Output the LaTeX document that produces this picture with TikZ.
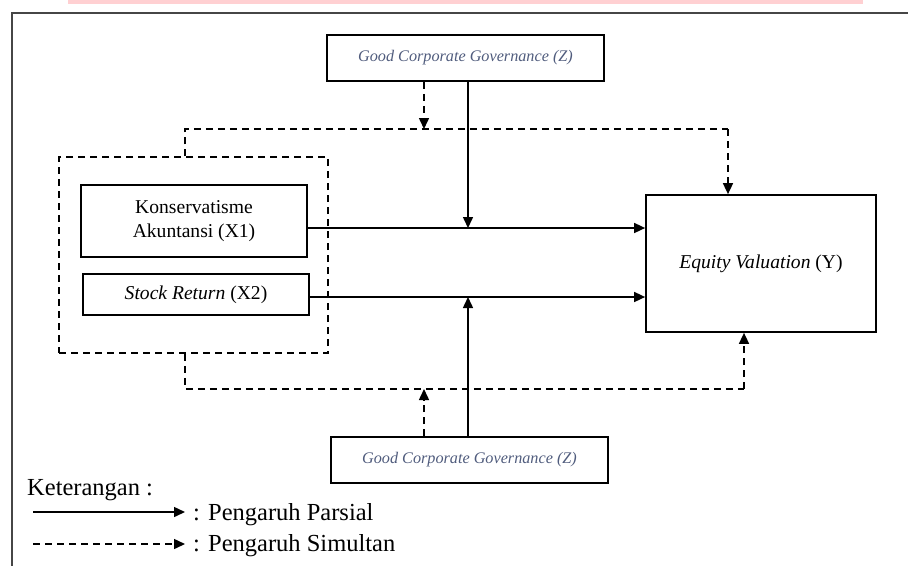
\documentclass[tikz,border=0pt]{standalone}
\usepackage{fontspec}
\setmainfont{Liberation Serif}
\usetikzlibrary{positioning,arrows.meta}
\definecolor{zblue}{RGB}{80,92,125}
\definecolor{framegrey}{RGB}{70,70,70}
\definecolor{pinkbar}{RGB}{255,208,210}

\begin{document}
\begin{tikzpicture}[x=1pt, y=-1pt,
	boxx/.style={draw, line width=1.7pt, inner sep=0pt, align=center, font=\fontsize{19.6}{24}\selectfont},
	gcg/.style={boxx, minimum width=277pt, minimum height=46pt, text=zblue, font=\fontsize{16.2}{19}\selectfont\itshape},
	par/.style={line width=1.5pt, -{Triangle[length=11pt,width=10pt]}},
	sim/.style={par, dash pattern=on 7pt off 5pt},
	grp/.style={draw, line width=1.5pt, dash pattern=on 7pt off 5pt},
	leg/.style={anchor=west, inner sep=0pt, font=\fontsize{24.5}{28}\selectfont}]
		\useasboundingbox (0,0) rectangle (908,566);
		\fill[pinkbar] (68,0) rectangle (863,4);
		\draw[line width=2pt, framegrey] (908,13) -- (12,13) -- (12,566);

		\node[gcg] (Zt) at (465.5,58) {Good Corporate Governance (Z)};
		\node[gcg] (Zb) at (469.5,460) {Good Corporate Governance (Z)};
		\node[boxx, minimum width=226pt, minimum height=72pt] (X1) at (194,221) {Konservatisme\\Akuntansi (X1)};
		\node[boxx, minimum width=226pt, minimum height=41pt] (X2) at (196,294.5) {\textit{Stock Return} (X2)};
		\node[boxx, minimum width=230pt, minimum height=137pt] (Y) at (761,263.5) {\textit{Equity Valuation} (Y)};
		\node[grp, minimum width=269pt, minimum height=196pt] (G) at (193.5,255) {};

		\coordinate (t1) at (185,129);
		\coordinate (t2) at (728,129);
		\coordinate (d1) at (424,129);
		\coordinate (b1) at (185,389);
		\coordinate (b2) at (744,389);
		\coordinate (d2) at (424,389);
		\coordinate (m1) at (468,228);
		\coordinate (m2) at (468,297);

		\draw[grp] (G.north -| t1) -- (t1) -- (t2);
		\draw[sim] (t2) -- (t2 |- Y.north);
		\draw[sim] (Zt.south -| d1) -- (d1);
		\draw[grp] (G.south -| b1) -- (b1) -- (b2);
		\draw[sim] (b2) -- (b2 |- Y.south);
		\draw[sim] (Zb.north -| d2) -- (d2);

		\draw[par] (X1.east |- m1) -- (Y.west |- m1);
		\draw[par] (X2.east |- m2) -- (Y.west |- m2);
		\draw[par] (Zt.south -| m1) -- (m1);
		\draw[par] (Zb.north -| m2) -- (m2);

		\node[leg] (ket) at (27,490) {Keterangan :};
		\coordinate (l1) at (33,512);
		\coordinate (l2) at (185,512);
		\coordinate (l3) at (33,544);
		\coordinate (l4) at (185,544);
		\draw[par] (l1) -- (l2);
		\draw[sim] (l3) -- (l4);
		\node[leg, right=8pt of l2, yshift=-3pt] (parsial) {: Pengaruh Parsial};
		\node[leg, right=8pt of l4, yshift=-2pt] (simultan) {: Pengaruh Simultan};
	\end{tikzpicture}
\end{document}
